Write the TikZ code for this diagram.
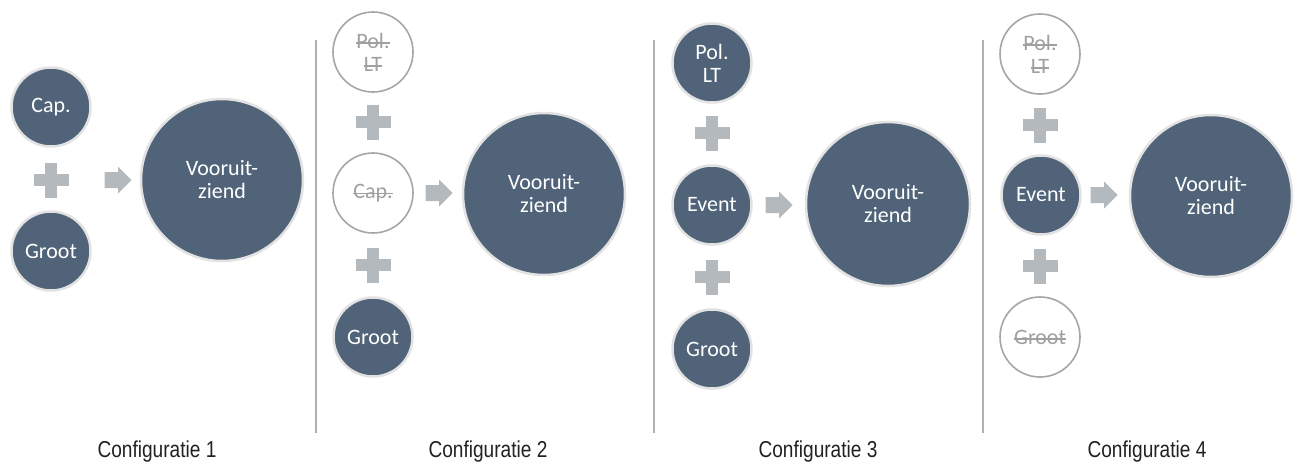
\documentclass[tikz,border=0pt]{standalone}
\usepackage{fontspec}
\setmainfont{Carlito}
\newfontfamily\labelfont{Liberation Sans}
\usepackage{graphicx}
\definecolor{slate}{RGB}{80,99,120}
\definecolor{halo}{RGB}{226,226,226}
\definecolor{ghost}{RGB}{166,166,166}
\definecolor{ghosttext}{RGB}{160,160,160}
\definecolor{plusgray}{RGB}{180,185,190}
\definecolor{sepgray}{RGB}{176,176,176}
\definecolor{labeltext}{RGB}{34,34,34}
\newcommand\strk[1]{\setbox0=\hbox{#1}\rlap{\rule[0.2em]{\wd0}{1.4pt}}\box0}
\tikzset{
  smallon/.style={circle, minimum size=79pt, inner sep=0pt, fill=slate, draw=halo, line width=2.5pt,
    text=white, align=center, font=\fontsize{22}{23}\selectfont},
  smalloff/.style={circle, minimum size=80pt, inner sep=0pt, fill=white, draw=ghost, line width=1.6pt,
    text=ghosttext, align=center, font=\fontsize{22}{23}\selectfont},
  bigcirc/.style={circle, minimum size=162pt, inner sep=0pt, fill=slate, draw=halo, line width=2.5pt,
    text=white, align=center, font=\fontsize{22}{23}\selectfont},
  cfglabel/.style={anchor=base, text=labeltext, inner sep=0pt, font=\labelfont\fontsize{23}{26}\selectfont},
  sepline/.style={draw=sepgray, line width=1.5pt},
  plussign/.pic={\fill[plusgray] (-17.5,-6) rectangle (17.5,6); \fill[plusgray] (-6,-17.5) rectangle (6,17.5);},
  fatarrow/.pic={\fill[plusgray] (-13.5,-8) -- (0,-8) -- (0,-13.5) -- (13.5,0) -- (0,13.5) -- (0,8) -- (-13.5,8) -- cycle;}
}
\begin{document}
\begin{tikzpicture}[x=1pt, y=-1pt]
\useasboundingbox (0,0) rectangle (1295,464);
\fill[white] (0,0) rectangle (1295,464);

% separators
\coordinate (s1a) at (316,40); \coordinate (s1b) at (316,433);
\coordinate (s2a) at (654,40); \coordinate (s2b) at (654,433);
\coordinate (s3a) at (983,40); \coordinate (s3b) at (983,433);
\draw[sepline] (s1a) -- (s1b);
\draw[sepline] (s2a) -- (s2b);
\draw[sepline] (s3a) -- (s3b);

% Configuratie 1
\node[smallon] (c1cap) at (51,107) {Cap.};
\pic at (51,180) {plussign};
\node[smallon] (c1groot) at (51,251) {Groot};
\pic at (118,180) {fatarrow};
\node[bigcirc] (c1v) at (222,180) {Vooruit-\\ziend};
\node[cfglabel] (l1) at (157,457) {\scalebox{0.83}[1]{Configuratie 1}};

% Configuratie 2
\node[smalloff] (c2pol) at (373,52) {\strk{Pol.}\\\strk{LT}};
\pic at (373,122) {plussign};
\node[smalloff] (c2cap) at (373,193) {\strk{Cap.}};
\pic at (373,265) {plussign};
\node[smallon] (c2groot) at (373,337) {Groot};
\pic at (439,193) {fatarrow};
\node[bigcirc] (c2v) at (544,194) {Vooruit-\\ziend};
\node[cfglabel] (l2) at (488,457) {\scalebox{0.83}[1]{Configuratie 2}};

% Configuratie 3
\node[smallon] (c3pol) at (712,63) {Pol.\\LT};
\pic at (712,133) {plussign};
\node[smallon] (c3event) at (712,205) {Event};
\pic at (712,277) {plussign};
\node[smallon] (c3groot) at (712,349) {Groot};
\pic at (779,205) {fatarrow};
\node[bigcirc, minimum size=164pt] (c3v) at (888,204) {Vooruit-\\ziend};
\node[cfglabel] (l3) at (818,457) {\scalebox{0.83}[1]{Configuratie 3}};

% Configuratie 4
\node[smalloff] (c4pol) at (1040,54) {\strk{Pol.}\\\strk{LT}};
\pic at (1040,125) {plussign};
\node[smallon] (c4event) at (1041,195) {Event};
\pic at (1040,266) {plussign};
\node[smalloff] (c4groot) at (1040,337) {\strk{Groot}};
\pic at (1104,195) {fatarrow};
\node[bigcirc] (c4v) at (1211,196) {Vooruit-\\ziend};
\node[cfglabel] (l4) at (1147,457) {\scalebox{0.83}[1]{Configuratie 4}};
\end{tikzpicture}
\end{document}
